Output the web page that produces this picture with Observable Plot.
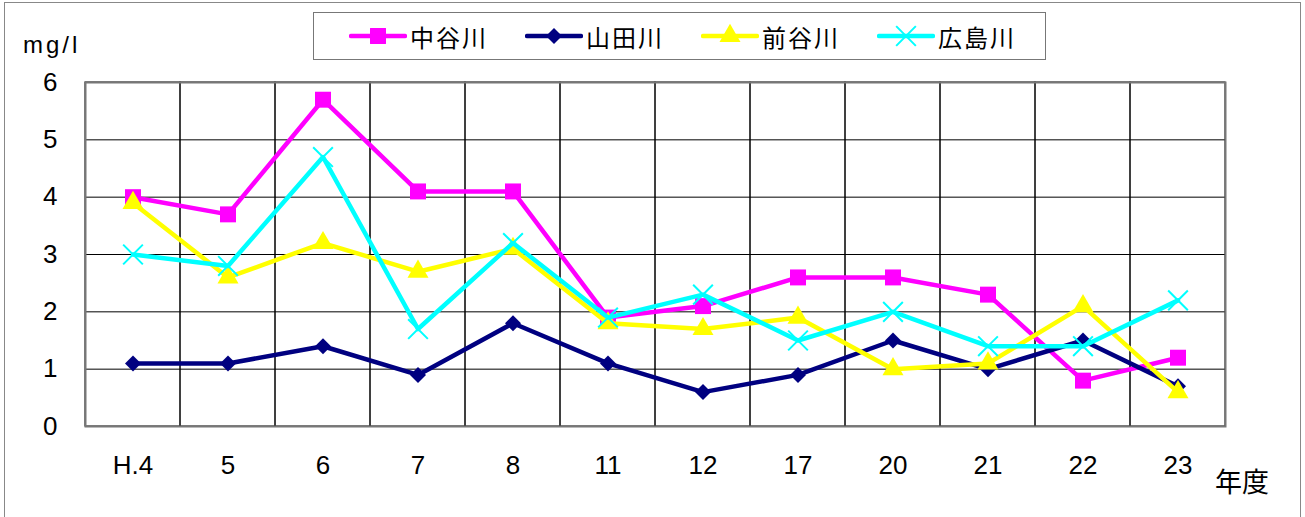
<!DOCTYPE html>
<html><head><meta charset="utf-8">
<script src="https://cdn.jsdelivr.net/npm/d3@7"></script>
<script src="https://cdn.jsdelivr.net/npm/@observablehq/plot@0.6"></script>
<style>
body{margin:0;background:#fff;}
#wrap{position:relative;width:1305px;height:517px;overflow:hidden;font-family:"Liberation Sans","Noto Sans CJK JP",sans-serif;color:#000;}
#border{position:absolute;left:4px;top:2px;width:1297px;height:530px;border:1px solid #888;box-sizing:border-box;}
#chart{position:absolute;left:0;top:0;}
#legend{position:absolute;left:313px;top:12px;width:733px;height:48px;border:1px solid #777;box-sizing:border-box;background:#fff;display:flex;align-items:center;padding-left:35px;}
.item{display:flex;align-items:center;width:176px;flex:none;font-family:"Noto Sans CJK JP",sans-serif;font-size:24px;letter-spacing:2px;}
.item svg{margin-right:3px;flex:none;}
#ylab{position:absolute;left:23px;top:31px;font-size:24px;letter-spacing:3px;font-family:"Liberation Sans","Noto Sans CJK JP",sans-serif;}
#xlab{position:absolute;left:1215px;top:461px;font-size:27px;font-family:"Noto Sans CJK JP",sans-serif;}
</style></head>
<body>
<div id="wrap">
  <div id="border"></div>
  <div id="chart"></div>
  <div id="legend"></div>
  <div id="ylab">mg/l</div>
  <div id="xlab">年度</div>
</div>
<script>
const years = ["H.4","5","6","7","8","11","12","17","20","21","22","23"];
const seriesNames = ["中谷川","山田川","前谷川","広島川"];
const nakatani = [4.0, 3.7, 5.7, 4.1, 4.1, 1.9, 2.1, 2.6, 2.6, 2.3, 0.8, 1.2];
const yamada   = [1.1, 1.1, 1.4, 0.9, 1.8, 1.1, 0.6, 0.9, 1.5, 1.0, 1.5, 0.7];
const maetani  = [3.9, 2.6, 3.2, 2.7, 3.1, 1.8, 1.7, 1.9, 1.0, 1.1, 2.1, 0.6];
const hiroshima= [3.0, 2.8, 4.7, 1.7, 3.2, 1.9, 2.3, 1.5, 2.0, 1.4, 1.4, 2.2];
const yTicks = [0,1,2,3,4,5,6];

const seriesValues = [nakatani, yamada, maetani, hiroshima];
const colors = ["#ff00ff","#000080","#ffff00","#00ffff"];
const symbols = ["square","diamond2","triangle","times"];
const radii = [9, 7.2, 7.8, 9];

const seriesMarks = [];
seriesNames.forEach((name, si) => {
  const data = years.map((yr, i) => ({year: yr, value: seriesValues[si][i]}));
  seriesMarks.push(Plot.line(data, {x: "year", y: "value", stroke: colors[si], strokeWidth: 4.5}));
  if (symbols[si] === "times") {
    seriesMarks.push(Plot.dot(data, {x: "year", y: "value", symbol: "times", r: radii[si], stroke: colors[si], strokeWidth: 2, fill: "none"}));
  } else {
    seriesMarks.push(Plot.dot(data, {x: "year", y: "value", symbol: symbols[si], r: radii[si], fill: colors[si], stroke: "none"}));
  }
});

const chart = Plot.plot({
  width: 1305, height: 517,
  marginLeft: 85, marginRight: 80, marginTop: 82, marginBottom: 91,
  style: {fontSize: "26px", fontFamily: "'Liberation Sans','Noto Sans CJK JP',sans-serif", background: "transparent", color: "#000"},
  x: {type: "band", domain: years, padding: 0, label: null, tickSize: 0, tickPadding: 29},
  y: {domain: [0, 6], ticks: yTicks, tickFormat: d3.format("d"), label: null, tickSize: 0, tickPadding: 28},
  marks: [
    Plot.barY(years, {x: d => d, y1: yTicks[0], y2: yTicks[yTicks.length-1], fill: "none", stroke: "#000", strokeWidth: 1}),
    Plot.ruleY(yTicks, {stroke: "#000", strokeWidth: 1}),
    Plot.frame({stroke: "#777", strokeWidth: 2}),
    ...seriesMarks
  ]
});
document.getElementById("chart").appendChild(chart);

// legend
const legend = document.getElementById("legend");
const symMap = {square: d3.symbolSquare, diamond2: d3.symbolDiamond2, triangle: d3.symbolTriangle, times: d3.symbolTimes};
seriesNames.forEach((name, si) => {
  const item = document.createElement("div");
  item.className = "item";
  const svg = d3.create("svg").attr("width", 58).attr("height", 26);
  svg.append("line").attr("x1", 2).attr("x2", 56).attr("y1", 13).attr("y2", 13)
     .attr("stroke", colors[si]).attr("stroke-width", 4.5).attr("stroke-linecap", "round");
  const path = d3.symbol(symMap[symbols[si]], Math.PI * radii[si] * radii[si])();
  const p = svg.append("path").attr("d", path).attr("transform", "translate(29,13)");
  if (symbols[si] === "times") p.attr("fill", "none").attr("stroke", colors[si]).attr("stroke-width", 2);
  else p.attr("fill", colors[si]);
  item.appendChild(svg.node());
  const t = document.createElement("span");
  t.textContent = name;
  item.appendChild(t);
  legend.appendChild(item);
});
</script>
</body></html>
